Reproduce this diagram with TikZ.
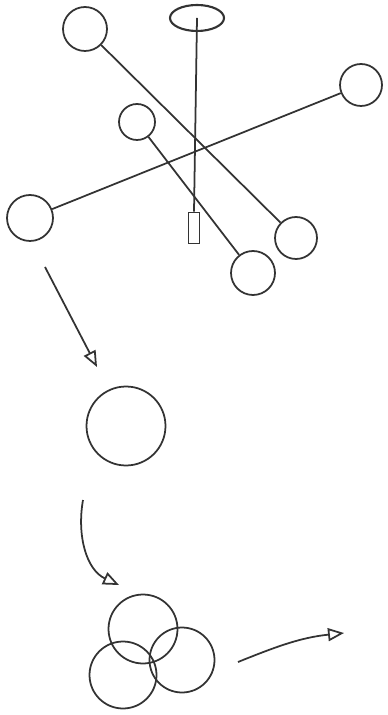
\documentclass[tikz,border=0pt]{standalone}
\usepackage{tikz}
\usetikzlibrary{arrows.meta,shapes.geometric}

\begin{document}
\begin{tikzpicture}[x=0.02cm,y=-0.02cm,
  ball/.style={draw=black!80,circle,line width=1pt,inner sep=0pt},
  link/.style={draw=black!80,line width=1pt},
  arr/.style={-{Triangle[open,length=3.2mm,width=2.6mm]},line width=1pt,draw=black!80}]
\useasboundingbox (0,0) rectangle (387,715);
% top: balls on sticks
\node[ball,minimum size=0.88cm] (tl) at (85,29) {};
\node[draw=black!80,ellipse,line width=1.2pt,minimum width=1.08cm,minimum height=0.52cm,inner sep=0pt] (cap) at (197,18) {};
\node[ball,minimum size=0.84cm] (tr) at (361,85) {};
\node[ball,minimum size=0.72cm] (mid) at (137,122) {};
\node[ball,minimum size=0.92cm] (ml) at (30,218) {};
\node[draw=black!80,line width=1pt,minimum width=0.22cm,minimum height=0.62cm,inner sep=0pt] (tube) at (194,228) {};
\node[ball,minimum size=0.84cm] (br) at (296,238) {};
\node[ball,minimum size=0.88cm] (bm) at (253,273) {};
\draw[link] (tl) -- (br);
\draw[link] (cap.center) -- (tube.north);
\draw[link] (tr) -- (ml);
\draw[link] (mid) -- (bm);
% one ball
\coordinate (a1s) at (45,267);
\coordinate (a1e) at (97,367);
\draw[arr] (a1s) -- (a1e);
\node[ball,minimum size=1.58cm] (one) at (126,426) {};
% three balls
\coordinate (a2s) at (83,500);
\coordinate (a2e) at (119,585);
\draw[arr] (a2s) to[out=-100,in=155] (a2e);
\node[ball,minimum size=1.38cm] (t1) at (143,629) {};
\node[ball,minimum size=1.34cm] (t2) at (123,675) {};
\node[ball,minimum size=1.3cm] (t3) at (182,660) {};
\coordinate (a3s) at (238,662);
\coordinate (a3e) at (344,633);
\draw[arr] (a3s) to[out=22,in=186] (a3e);
\end{tikzpicture}
\end{document}
